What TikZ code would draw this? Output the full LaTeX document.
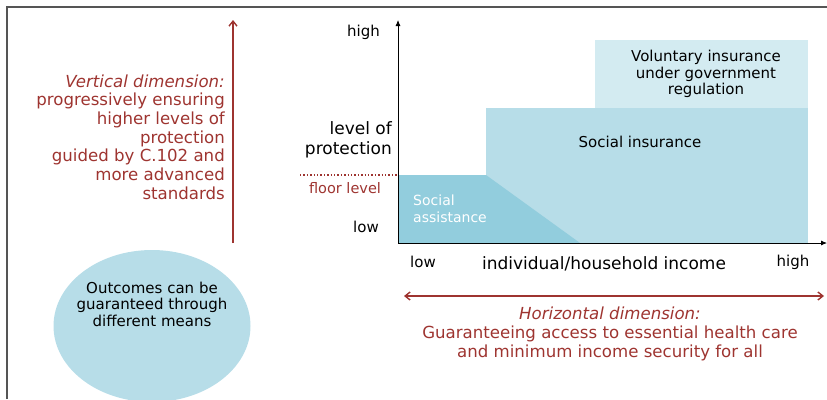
\documentclass[tikz,border=0pt]{standalone}
\usepackage{fontspec}
\setmainfont{DejaVu Sans}
\usepackage{tikz}
\usetikzlibrary{shapes.geometric, positioning, arrows.meta}
\definecolor{dimred}{RGB}{158,52,48}
\definecolor{frame}{RGB}{85,85,85}
\definecolor{assistblue}{RGB}{146,205,221}
\definecolor{insureblue}{RGB}{183,221,232}
\definecolor{volblue}{RGB}{211,235,241}

\begin{document}
\begin{tikzpicture}[
        x=1pt, y=-1pt,
        % plain black labels on the chart
        lbl/.style={
            inner sep=0pt,
            align=center,
            font=\fontsize{15}{16.5}\selectfont
        },
        % red labels for the two dimensions
        redlbl/.style={
            lbl,
            text=dimred,
            font=\fontsize{16.6}{18.7}\selectfont
        },
        % red dimension arrows
        dimarrow/.style={
            draw=dimred,
            line width=1.4pt,
            -{Straight Barb[length=5pt,width=8pt]}
        },
        axis/.style={
            draw=black,
            line width=0.8pt,
            -{Latex[length=6pt,width=5pt]}
        }
    ]

    \useasboundingbox (0,0) rectangle (827,399);

    % 1. Frame (top and left edges only)
    \draw[frame, line width=1.2pt] (7,399) -- (7,7) -- (827,7);

    % 2. Regions of the chart
    \coordinate (O) at (398,243);
    \fill[volblue] (595,40) rectangle (808,108);
    \fill[insureblue] (486,108) rectangle (808,243);
    \fill[assistblue] (O) -- (398,175) -- (486,175) -- (580,243) -- cycle;

    \node[lbl] (vol) at (706,74) {Voluntary insurance\\under government\\regulation};
    \node[lbl] (soc) at (640,142) {Social insurance};
    \node[lbl, font=\fontsize{14}{16.5}\selectfont, text=white, align=left, anchor=west] (assist) at (413,209) {Social\\assistance};

    % 3. Axes
    \coordinate (ytop) at (398,20);
    \coordinate (xend) at (827,243);
    \draw[axis] (O) -- (ytop);
    \draw[axis] (O) -- (xend);

    \node[lbl, anchor=east] (yhigh) at (380,32) {high};
    \node[lbl, anchor=east] (ylow) at (379,227) {low};
    \node[lbl, align=right, anchor=east, font=\fontsize{17}{20}\selectfont] (level) at (392,140) {level of\\protection};
    \node[lbl] (xlow) at (423,262) {low};
    \node[lbl, font=\fontsize{17}{20}\selectfont] (income) at (604,264) {individual/household income};
    \node[lbl] (xhigh) at (793,262) {high};

    % 4. Floor level
    \coordinate (floorstart) at (300,175);
    \coordinate (floorend) at (398,175);
    \draw[dimred, line width=1.4pt, dotted] (floorstart) -- (floorend);
    \node[lbl, text=dimred, font=\fontsize{14.5}{16}\selectfont] (floor) at (345,188) {floor level};

    % 5. Vertical dimension
    \coordinate (vbot) at (233,243);
    \coordinate (vtop) at (233,20);
    \draw[dimarrow] (vbot) -- (vtop);
    \node[redlbl, align=right, anchor=east] (vdim) at (225,137)
        {\textit{Vertical dimension:}\\progressively ensuring\\higher levels of\\protection\\guided by C.102 and\\more advanced\\standards};

    % 6. Horizontal dimension
    \coordinate (hleft) at (404,296);
    \coordinate (hright) at (824,296);
    \draw[dimarrow, {Straight Barb[length=5pt,width=8pt]}-{Straight Barb[length=5pt,width=8pt]}] (hleft) -- (hright);
    \node[redlbl] (hdim) at (610,334)
        {\textit{Horizontal dimension:}\\Guaranteeing access to essential health care\\and minimum income security for all};

    % 7. Means ellipse
    \node[ellipse, fill=insureblue, minimum width=197, minimum height=152, inner sep=0pt] (means) at (152,326) {};
    \node[lbl] (meanstext) at (152,304) {Outcomes can be\\guaranteed through\\different means};

\end{tikzpicture}
\end{document}
